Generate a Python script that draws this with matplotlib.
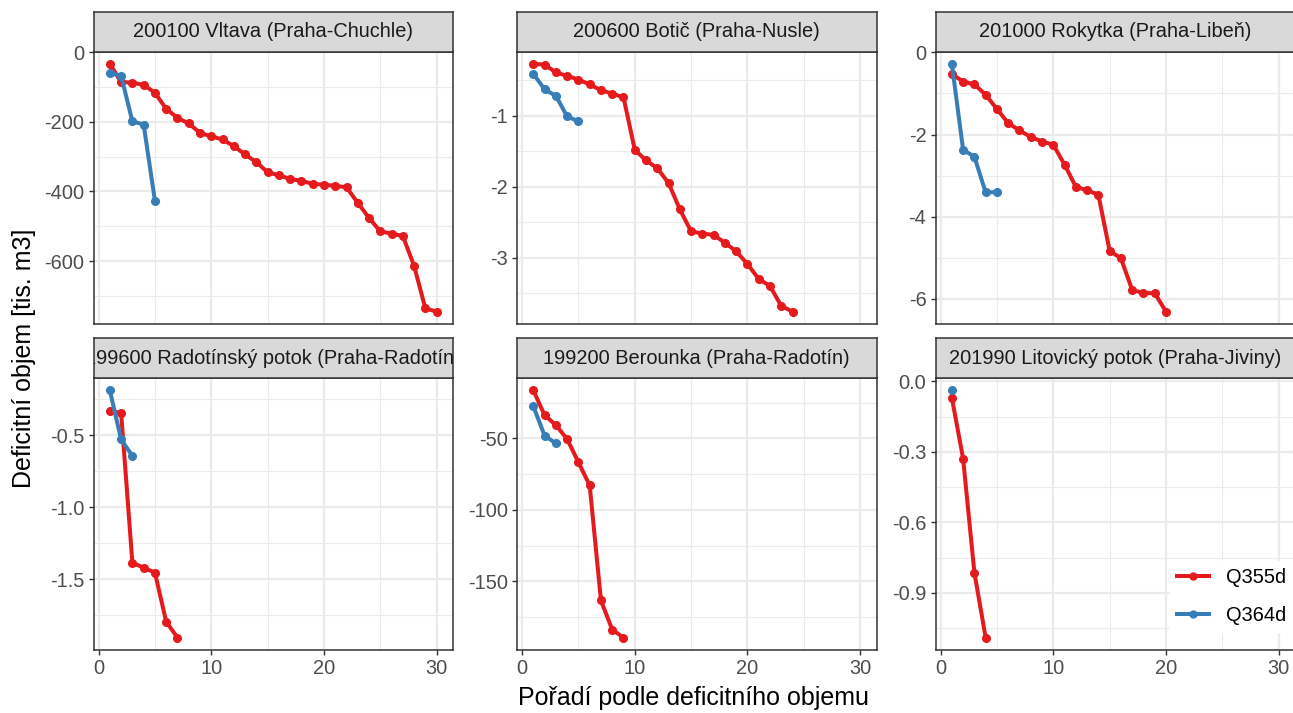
import numpy as np
import matplotlib
matplotlib.use("Agg")
import matplotlib.pyplot as plt
from matplotlib.lines import Line2D
from matplotlib.ticker import MultipleLocator, FormatStrFormatter

plt.rcParams['font.family'] = ['Liberation Sans', 'DejaVu Sans']
plt.rcParams['axes.unicode_minus'] = False

# data (deficit volume, thousand m3)
titles = [
    "200100 Vltava (Praha-Chuchle)",
    "200600 Botič (Praha-Nusle)",
    "201000 Rokytka (Praha-Libeň)",
    "199600 Radotínský potok (Praha-Radotín)",
    "199200 Berounka (Praha-Radotín)",
    "201990 Litovický potok (Praha-Jiviny)",
]
vltava_q355 = [-34, -86, -88, -94, -117, -163, -189, -205, -232, -242, -251, -270, -294, -316, -345,
               -354, -364, -370, -378, -381, -384, -388, -433, -476, -515, -521, -528, -614, -736, -745]
vltava_q364 = [-60, -68, -199, -208, -427]
botic_q355 = [-0.27, -0.28, -0.39, -0.44, -0.49, -0.56, -0.64, -0.69, -0.74, -1.48, -1.63, -1.74,
              -1.95, -2.32, -2.63, -2.66, -2.68, -2.79, -2.91, -3.09, -3.30, -3.40, -3.68, -3.76]
botic_q364 = [-0.41, -0.63, -0.72, -1.01, -1.08]
rokytka_q355 = [-0.53, -0.71, -0.78, -1.03, -1.38, -1.72, -1.90, -2.06, -2.17, -2.25, -2.73, -3.27,
                -3.36, -3.46, -4.83, -5.01, -5.78, -5.86, -5.86, -6.31]
rokytka_q364 = [-0.28, -2.37, -2.54, -3.41, -3.40]
radot_q355 = [-0.33, -0.343, -1.385, -1.42, -1.454, -1.795, -1.906]
radot_q364 = [-0.187, -0.528, -0.643]
berounka_q355 = [-16.4, -33.8, -40.7, -50.5, -66.7, -82.9, -163.4, -183.8, -189.4]
berounka_q364 = [-27.5, -48.1, -53.5]
litov_q355 = [-0.069, -0.328, -0.813, -1.090]
litov_q364 = [-0.038]

series = [
    (vltava_q355, vltava_q364),
    (botic_q355, botic_q364),
    (rokytka_q355, rokytka_q364),
    (radot_q355, radot_q364),
    (berounka_q355, berounka_q364),
    (litov_q355, litov_q364),
]
# y tick setup per panel: major step, minor step, format
yticks = [(200, 100, '%d'), (1, 0.5, '%d'), (2, 1, '%d'),
          (0.5, 0.25, '%.1f'), (50, 25, '%d'), (0.3, 0.15, '%.1f')]

red = '#E41A1C'
blue = '#377EB8'
g20 = '#333333'

W, H = 1293, 713
fig = plt.figure(figsize=(W / 100, H / 100), dpi=100)

col_left = [93.5, 517, 935.5]
pw = 359.5
rows = [(51.5, 324, 12), (378, 650, 338)]  # panel top, panel bottom, strip top


def fx(px):
    return px / W


def fy(py):
    return 1 - py / H


for i, (q355, q364) in enumerate(series):
    r, c = divmod(i, 3)
    top, bot, stop = rows[r]
    left = col_left[c]
    ax = fig.add_axes([fx(left), fy(bot), pw / W, (bot - top) / H])

    ax.plot(np.arange(1, len(q355) + 1), q355, color=red, lw=2.9, marker='o', ms=5.5, zorder=3)
    ax.plot(np.arange(1, len(q364) + 1), q364, color=blue, lw=2.9, marker='o', ms=5.5, zorder=3)

    allv = q355 + q364
    lo, hi = min(allv), max(allv)
    pad = 0.05 * (hi - lo)
    ax.set_ylim(lo - pad, hi + pad)
    ax.set_xlim(-0.45, 31.45)

    maj, mnr, fmt = yticks[i]
    ax.yaxis.set_major_locator(MultipleLocator(maj))
    ax.yaxis.set_minor_locator(MultipleLocator(mnr))
    ax.yaxis.set_major_formatter(FormatStrFormatter(fmt))
    ax.xaxis.set_major_locator(MultipleLocator(10))
    ax.xaxis.set_minor_locator(MultipleLocator(5))

    ax.grid(which='major', color='#EBEBEB', lw=1.6)
    ax.grid(which='minor', color='#EBEBEB', lw=0.8)
    ax.set_axisbelow(True)
    for s in ax.spines.values():
        s.set_color(g20)
        s.set_linewidth(1.1)

    ax.tick_params(which='minor', length=0)
    ax.tick_params(which='major', length=3.5, width=1.0, color=g20,
                   labelsize=14.4, labelcolor='#4D4D4D', pad=3)
    if r == 0:
        ax.tick_params(axis='x', which='major', length=0, labelbottom=False)

    # strip
    sax = fig.add_axes([fx(left), fy(top), pw / W, (top - stop) / H])
    sax.set_facecolor('#D9D9D9')
    sax.set_xticks([])
    sax.set_yticks([])
    for s in sax.spines.values():
        s.set_color(g20)
        s.set_linewidth(1.1)
    sax.text(0.5, 0.5, titles[i], transform=sax.transAxes, ha='center', va='center',
             fontsize=14.4, color='#1A1A1A', clip_on=True)

fig.text(fx(24), fy(358), 'Deficitní objem [tis. m3]', rotation=90, ha='center', va='center',
         fontsize=18)
fig.text(fx(694), fy(698), 'Pořadí podle deficitního objemu', ha='center', va='center',
         fontsize=18)

handles = [Line2D([], [], color=red, lw=2.9, marker='o', ms=5),
           Line2D([], [], color=blue, lw=2.9, marker='o', ms=5)]
fig.legend(handles, ['Q355d', 'Q364d'], loc='lower right',
           bbox_to_anchor=(fx(1293), fy(632)), frameon=True, facecolor='white',
           edgecolor='white', framealpha=1, fontsize=14.4, handlelength=1.6,
           handletextpad=0.85, labelspacing=0.95, borderpad=0.35, numpoints=1,
           borderaxespad=0)

fig.savefig('out.png', dpi=100)
